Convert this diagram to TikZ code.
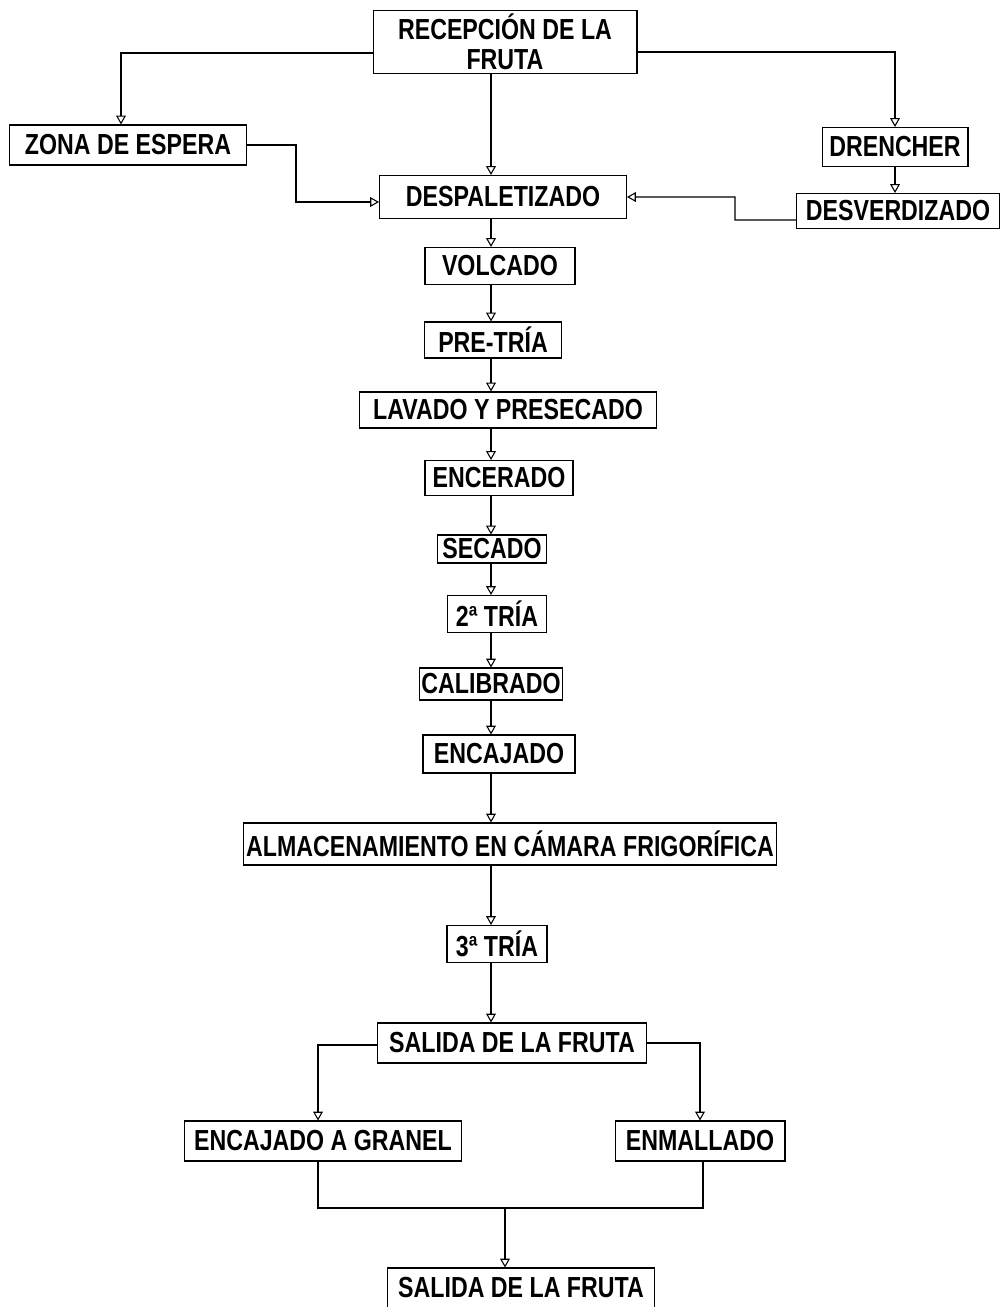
\documentclass[tikz,border=0pt]{standalone}
\usepackage{fontspec}
\setmainfont{Liberation Sans}[FakeStretch=0.8]
\usetikzlibrary{arrows.meta}

\begin{document}
\begin{tikzpicture}[x=0.02cm,y=-0.02cm,
  etapa/.style={shape=rectangle, draw, line width=0.6pt, inner sep=1pt,
    font=\bfseries\fontsize{16.5}{17}\selectfont, align=center},
  flecha/.style={-{Triangle[open,length=5pt,width=5.5pt]}, line width=0.6pt},
  linea/.style={line width=0.6pt}]
\useasboundingbox (0,0) rectangle (1003,1307);
\coordinate (eje) at (491,0);
\coordinate (izq) at (121,0);
\coordinate (izqb) at (318,0);
\coordinate (derb) at (703,0);

\node (recep) at (505,42) [etapa, minimum width=5.28cm, minimum height=1.26cm] {RECEPCIÓN DE LA\\FRUTA};
\node (zona) at (128,145) [etapa, minimum width=4.74cm, minimum height=0.8cm] {ZONA DE ESPERA};
\node (drench) at (895,147) [etapa, minimum width=2.92cm, minimum height=0.78cm] {DRENCHER};
\node (despal) at (503,197) [etapa, minimum width=4.94cm, minimum height=0.86cm] {DESPALETIZADO};
\node (desverd) at (898,211) [etapa, minimum width=4.06cm, minimum height=0.7cm] {DESVERDIZADO};
\node (volc) at (500,266) [etapa, minimum width=3.0cm, minimum height=0.74cm] {VOLCADO};
\node (pretria) at (493,340) [etapa, minimum width=2.74cm, minimum height=0.72cm] {PRE-TRÍA};
\node (lavado) at (508,410) [etapa, minimum width=5.94cm, minimum height=0.72cm] {LAVADO Y PRESECADO};
\node (encer) at (499,478) [etapa, minimum width=2.96cm, minimum height=0.7cm] {ENCERADO};
\node (secado) at (492,549) [etapa, minimum width=2.18cm, minimum height=0.56cm] {SECADO};
\node (tria2) at (497,614) [etapa, minimum width=1.98cm, minimum height=0.74cm] {2ª TRÍA};
\node (calib) at (491,684) [etapa, minimum width=2.86cm, minimum height=0.64cm] {CALIBRADO};
\node (encaj) at (499,754) [etapa, minimum width=3.04cm, minimum height=0.76cm] {ENCAJADO};
\node (almac) at (510,844) [etapa, minimum width=10.68cm, minimum height=0.84cm] {ALMACENAMIENTO EN CÁMARA FRIGORÍFICA};
\node (tria3) at (497,944) [etapa, minimum width=2.0cm, minimum height=0.74cm] {3ª TRÍA};
\node (salida) at (512,1043) [etapa, minimum width=5.38cm, minimum height=0.8cm] {SALIDA DE LA FRUTA};
\node (granel) at (323,1141) [etapa, minimum width=5.54cm, minimum height=0.8cm] {ENCAJADO A GRANEL};
\node (enmall) at (700,1141) [etapa, minimum width=3.4cm, minimum height=0.8cm] {ENMALLADO};
\node (salida2) at (521,1288) [etapa, minimum width=5.34cm, minimum height=0.8cm] {SALIDA DE LA FRUTA};

% ramas de la recepcion
\draw [flecha] (recep.south -| eje) -- (despal.north -| eje);
\draw [flecha] ([yshift=-0.22cm]recep.west) -| (izq |- zona.north);
\draw [flecha] ([yshift=-0.2cm]recep.east) -| (drench.north);
\draw [flecha] (drench.south) -- (desverd.north -| drench);
\draw [flecha] (zona.east) -- (296,145) |- ([yshift=-0.1cm]despal.west);
\draw [flecha] ([yshift=-0.18cm]desverd.west) -- (735,220) |- (despal.east);

% linea principal
\draw [flecha] (despal.south -| eje) -- (volc.north -| eje);
\draw [flecha] (volc.south -| eje) -- (pretria.north -| eje);
\draw [flecha] (pretria.south -| eje) -- (lavado.north -| eje);
\draw [flecha] (lavado.south -| eje) -- (encer.north -| eje);
\draw [flecha] (encer.south -| eje) -- (secado.north -| eje);
\draw [flecha] (secado.south -| eje) -- (tria2.north -| eje);
\draw [flecha] (tria2.south -| eje) -- (calib.north -| eje);
\draw [flecha] (calib.south -| eje) -- (encaj.north -| eje);
\draw [flecha] (encaj.south -| eje) -- (almac.north -| eje);
\draw [flecha] (almac.south -| eje) -- (tria3.north -| eje);
\draw [flecha] (tria3.south -| eje) -- (salida.north -| eje);

% salida
\draw [flecha] ([yshift=-0.04cm]salida.west) -| (izqb |- granel.north);
\draw [flecha] (salida.east) -| (enmall.north);
\draw [linea] (izqb |- granel.south) -- (318,1208) -- (703,1208) -- (derb |- enmall.south);
\draw [flecha] (505,1208) -- (505,1208 |- salida2.north);
\end{tikzpicture}
\end{document}
